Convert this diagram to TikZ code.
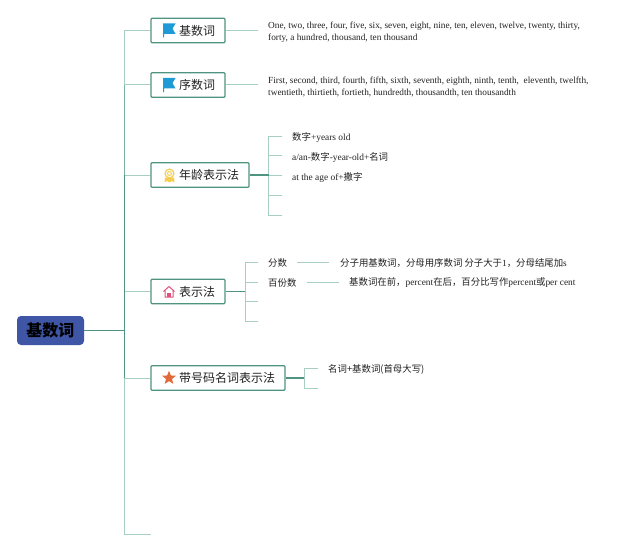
\documentclass[tikz,border=0pt]{standalone}
\usepackage{fontspec}
\setmainfont{Liberation Serif}
\newfontfamily\cjk{Noto Sans CJK SC}
\usetikzlibrary{shapes.geometric}
\definecolor{edgeA}{HTML}{4F9480}
\definecolor{edgeB}{HTML}{A8CFC3}
\definecolor{edgeC}{HTML}{7DB3A2}
\definecolor{rootfill}{HTML}{3F55A6}
\definecolor{flagblue}{HTML}{1E9AD6}
\definecolor{medal}{HTML}{F5CE50}
\definecolor{house}{HTML}{E0527E}
\definecolor{starc}{HTML}{E2693A}
\definecolor{txt}{HTML}{222222}
\tikzset{
  x=1pt,y=-1pt,
  box/.style={draw=edgeA,line width=1.1pt,fill=white,rounded corners=1pt,inner sep=0pt,minimum height=24.5pt,font=\fontsize{12}{14}\cjk,text=txt},
  root/.style={fill=rootfill,rounded corners=4pt,inner sep=0pt,minimum width=67pt,minimum height=29pt,font=\fontsize{16}{18}\cjk\bfseries,text=black},
  leaf/.style={anchor=west,inner sep=0pt,font=\fontsize{9.4}{12}\selectfont,text=txt},
  para/.style={anchor=west,inner sep=0pt,font=\fontsize{9.3}{12}\selectfont,text=txt,align=left},
  dark/.style={draw=edgeA,line width=1.2pt},
  mid/.style={draw=edgeC,line width=1.1pt},
  thin/.style={draw=edgeB,line width=1pt},
}
\begin{document}
\begin{tikzpicture}
\useasboundingbox (0,0) rectangle (640,551);
\fill[white] (0,0) rectangle (640,551);
% nodes
\node[root] (root) at (50.5,330.5) {\raisebox{-.6pt}{基数词}};
\node[box,minimum width=74pt] (n1) at (188,30.5) {\raisebox{-.6pt}{\hspace*{18pt}基数词}};
\node[box,minimum width=74pt] (n2) at (188,85) {\raisebox{-.6pt}{\hspace*{18pt}序数词}};
\node[box,minimum width=98pt] (n3) at (200,175) {\raisebox{-.6pt}{\hspace*{18pt}年龄表示法}};
\node[box,minimum width=74pt] (n4) at (188,291.5) {\raisebox{-.6pt}{\hspace*{18pt}表示法}};
\node[box,minimum width=134pt] (n5) at (218,378) {\raisebox{-.6pt}{\hspace*{18pt}带号码名词表示法}};
\coordinate (hub) at (124.5,330.5);
\coordinate (tail) at (151,534);
\coordinate (t1) at (258,30.5);
\coordinate (t2) at (258,85);
% level 1 connectors
\draw[thin] (124.5,378) -- (n5.west);
\draw[thin] (124.5,291.5) -- (n4.west);
\draw[thin] (124.5,175) -- (n3.west);
\draw[thin] (124.5,85) -- (n2.west);
\draw[thin] (124.5,85) |- (n1.west);
\draw[thin] (124.5,378) |- (tail);
\draw[mid] (124.5,175) -- (124.5,85);
\draw[dark] (root.east) -- (hub);
\draw[dark] (hub) -- (124.5,175);
\draw[dark] (hub) -- (124.5,378);
\draw[thin] (n1.east) -- (t1);
\draw[thin] (n2.east) -- (t2);
% English paragraphs
\node[para] (p1) at (268,32.5) {One, two, three, four, five, six, seven, eight, nine, ten, eleven, twelve, twenty, thirty,\\forty, a hundred, thousand, ten thousand};
\node[para] (p2) at (268,87) {First, second, third, fourth, fifth, sixth, seventh, eighth, ninth, tenth, \ eleventh, twelfth,\\twentieth, thirtieth, fortieth, hundredth, thousandth, ten thousandth};
% age group
\coordinate (a0) at (268.5,175);
\coordinate (a1) at (282,136);
\coordinate (a2) at (282,155.5);
\coordinate (a3) at (282,175);
\coordinate (a4) at (282,195);
\coordinate (a5) at (282,215);
\draw[thin] (a0) |- (a1);
\draw[thin] (a0) |- (a2);
\draw[thin] (a0) -- (a3);
\draw[thin] (a0) |- (a4);
\draw[thin] (a0) |- (a5);
\draw[dark] (n3.east) -- (a0);
\node[leaf] (l1) at (292,137.5) {{\cjk 数字}+years old};
\node[leaf] (l2) at (292,157.5) {a/an-{\cjk 数字}-year-old+{\cjk 名词}};
\node[leaf] (l3) at (292,177.5) {at the age of+{\cjk 撒字}};
% fractions group
\coordinate (b0) at (245,291.5);
\coordinate (b1) at (258,262);
\coordinate (b2) at (258,282);
\coordinate (b3) at (258,301.5);
\coordinate (b4) at (258,321);
\draw[thin] (b0) |- (b1);
\draw[thin] (b0) |- (b2);
\draw[thin] (b0) |- (b3);
\draw[thin] (b0) |- (b4);
\draw[dark] (n4.east) -- (b0);
\node[leaf] (f1) at (268,263) {\cjk 分数};
\node[leaf] (f2) at (268,283) {\cjk 百份数};
\node[leaf] (d1) at (340,263) {{\cjk 分子用基数词，分母用序数词 分子大于}1{\cjk ，分母结尾加}s};
\node[leaf] (d2) at (349,283) {{\cjk 基数词在前，}percent{\cjk 在后，百分比写作}percent{\cjk 或}per cent};
\draw[thin] ([xshift=10pt,yshift=.8pt]f1.east) -- ([xshift=-11pt,yshift=.8pt]d1.west);
\draw[thin] ([xshift=10pt,yshift=.8pt]f2.east) -- ([xshift=-10pt,yshift=.8pt]d2.west);
% number-name group
\coordinate (c0) at (304,378);
\coordinate (c1) at (318,368);
\coordinate (c2) at (318,388);
\draw[thin] (c0) |- (c1);
\draw[thin] (c0) |- (c2);
\draw[dark] (n5.east) -- (c0);
\node[leaf] (m1) at (328,369.5) {{\cjk 名词+基数词(首母大写)}};
% icons
\foreach \yy in {30.5,85}{
  \begin{scope}[shift={(163,\yy)}]
    \fill[flagblue] (0,-7) -- (12.5,-7) -- (9.5,-2) -- (12.5,3.5) -- (1,3.5) -- (1,7) -- (0,7) -- cycle;
  \end{scope}
}
\begin{scope}[shift={(169.5,175.5)}]
  \fill[medal] (-4.5,2) -- (-5,6.5) -- (-2,5.5) -- (0,7) -- (2,5.5) -- (5,6.5) -- (4.5,2) -- cycle;
  \draw[medal,line width=1.2pt,fill=white] (0,-2) circle (4.4);
  \draw[medal,line width=.9pt] (0,-2) circle (2);
\end{scope}
\begin{scope}[shift={(169,292)}]
  \draw[draw=house,line width=1pt,line join=round] (-5.5,-.5) -- (0,-5.5) -- (5.5,-.5) (-4,-1.5) -- (-4,5) -- (4,5) -- (4,-1.5);
  \fill[house] (-1.7,5) rectangle (1.7,1);
\end{scope}
\node[star,star points=5,star point ratio=2.3,fill=starc,inner sep=0pt,minimum size=14.5pt] (st) at (169,378) {};
\end{tikzpicture}
\end{document}
